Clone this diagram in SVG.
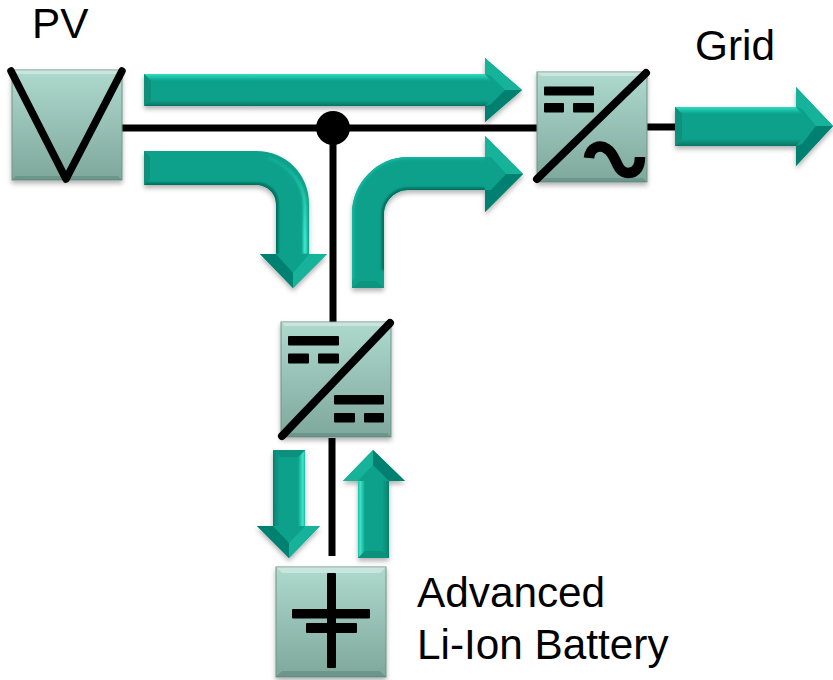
<svg xmlns="http://www.w3.org/2000/svg" width="833" height="680" viewBox="0 0 833 680">
<defs>
<linearGradient id="box" x1="0" y1="0" x2="0" y2="1"><stop offset="0" stop-color="#aed9cd"/><stop offset="1" stop-color="#7fa89d"/></linearGradient>
<linearGradient id="hTop" x1="0" y1="0" x2="0" y2="1"><stop offset="0" stop-color="#2fdcc0"/><stop offset="1" stop-color="#09a18b"/></linearGradient>
<linearGradient id="hBot" x1="0" y1="0" x2="0" y2="1"><stop offset="0" stop-color="#09a18b"/><stop offset="1" stop-color="#067565"/></linearGradient>
<linearGradient id="vR" x1="0" y1="0" x2="1" y2="0"><stop offset="0" stop-color="#09a18b"/><stop offset=".7" stop-color="#40e6cb"/><stop offset="1" stop-color="#1ab89f"/></linearGradient>
<linearGradient id="vL" x1="0" y1="0" x2="1" y2="0"><stop offset="0" stop-color="#06806e"/><stop offset="1" stop-color="#09a18b"/></linearGradient>
<linearGradient id="vLl" x1="0" y1="0" x2="1" y2="0"><stop offset="0" stop-color="#1ab89f"/><stop offset=".3" stop-color="#40e6cb"/><stop offset="1" stop-color="#09a18b"/></linearGradient>
<linearGradient id="vRd" x1="0" y1="0" x2="1" y2="0"><stop offset="0" stop-color="#09a18b"/><stop offset="1" stop-color="#06806e"/></linearGradient>
<linearGradient id="curveLit" gradientUnits="userSpaceOnUse" x1="0" y1="165" x2="0" y2="235"><stop offset="0" stop-color="#12ab94"/><stop offset="1" stop-color="#40e6cb"/></linearGradient>
<filter id="sh" x="-15%" y="-15%" width="130%" height="130%"><feDropShadow dx="0" dy="3" stdDeviation="2.500" flood-color="#000" flood-opacity="0.3"/></filter>
<filter id="soft" x="-10%" y="-10%" width="120%" height="120%"><feGaussianBlur stdDeviation="1"/></filter>
</defs>
<style>
.box{fill:url(#box);stroke:#6f9488;stroke-width:1}
.bh{fill:#ffffff;opacity:.35}
.bd{fill:#3f6a5f;opacity:.3}
.ar{fill:#09a18b}
.w{fill:none;stroke:#000;stroke-width:7}
.k{fill:#000}
.lt{fill:#12b29a}
.dk{fill:#06806f}
.dk2{fill:#07907c}
text{font-family:"Liberation Sans",Arial,sans-serif;font-size:42.300px;fill:#000}
</style>

<g id="connectors">
<path class="w" d="M122 128H537M333 128V322M647 127H676M332 438V556"/>
<circle class="k" cx="333" cy="128" r="17"/>
</g>

<g id="pv">
<rect class="box" x="12" y="70" width="110" height="110" filter="url(#sh)"/>
<path class="bh" d="M12 70H122L118 74H16Z"/>
<path class="bd" d="M12 180H122L118 176H16Z"/>
<path d="M11 71L66 179L122 71" fill="none" stroke="#000" stroke-width="7.500" stroke-linecap="round" stroke-linejoin="round"/>
<text x="32" y="38">PV</text>
</g>

<g id="inverter">
<rect class="box" x="537" y="72" width="110" height="110" filter="url(#sh)"/>
<path class="bh" d="M537 72H647L643 76H541Z"/>
<path class="bd" d="M537 182H647L643 178H541Z"/>
<path d="M537 179L646 73" stroke="#000" stroke-width="8" stroke-linecap="round"/>
<rect class="k" x="544" y="86.500" width="50" height="9" rx="1"/>
<rect class="k" x="544" y="103" width="20" height="9.500" rx="1"/>
<rect class="k" x="573" y="103" width="21" height="9.500" rx="1"/>
<path d="M589 158C590 147 600 144 607 149C617 155 616 173 628 173C637 173 640 166 640 157" fill="none" stroke="#000" stroke-width="10.500"/>
</g>

<g id="dcdc">
<rect class="box" x="281" y="322" width="110" height="115" filter="url(#sh)"/>
<path class="bh" d="M281 322H391L387 326H285Z"/>
<path class="bd" d="M281 437H391L387 433H285Z"/>
<path d="M282 436L390 323" stroke="#000" stroke-width="8" stroke-linecap="round"/>
<rect class="k" x="288" y="336" width="51" height="9.500" rx="1"/>
<rect class="k" x="288" y="353.500" width="21" height="10" rx="1"/>
<rect class="k" x="318" y="353.500" width="21" height="10" rx="1"/>
<rect class="k" x="334" y="395" width="50" height="9.500" rx="1"/>
<rect class="k" x="334" y="413" width="21" height="9.500" rx="1"/>
<rect class="k" x="364" y="413" width="20" height="9.500" rx="1"/>
</g>

<g id="battery">
<rect class="box" x="276" y="567" width="110" height="110" filter="url(#sh)"/>
<path class="bh" d="M276 567H386L380 573H282Z"/>
<path class="bd" d="M276 677H386L380 671H282Z"/>
<rect class="k" x="327" y="573" width="9" height="95" rx="1"/>
<rect class="k" x="292" y="609" width="78" height="9.500" rx="1"/>
<rect class="k" x="306" y="623" width="51" height="10" rx="1"/>
<text x="417" y="607">Advanced</text>
<text x="417" y="659">Li-Ion Battery</text>
</g>

<g id="grid">
<text x="695" y="60">Grid</text>
</g>

<g id="arrow-top" filter="url(#sh)">
<path class="ar" d="M144 74H485V58L522 90L485 122V106H144Z"/>
<path fill="url(#hTop)" d="M144 74H485L491 81H151Z"/>
<path fill="url(#hBot)" d="M144 106H485L491 100H151Z"/>
<path class="lt" d="M485 58L522 90L505 90L491 76L485 74Z"/>
<path class="dk" d="M485 122L522 90L505 90L491 104L485 106Z"/>
<path class="dk2" d="M144 74L151 81V100L144 106Z"/>
</g>

<g id="arrow-grid" filter="url(#sh)">
<path class="ar" d="M675 107H796V87L833 126L796 166V146H675Z"/>
<path fill="url(#hTop)" d="M675 107H796L802 114H682Z"/>
<path fill="url(#hBot)" d="M675 146H796L802 139H682Z"/>
<path class="lt" d="M796 87L833 126L816 126L802 109L796 107Z"/>
<path class="dk" d="M796 166L833 126L816 126L802 144L796 146Z"/>
<path class="dk2" d="M675 107L682 114V139L675 146Z"/>
</g>

<g id="arrow-down-bent" filter="url(#sh)">
<path class="ar" d="M144 151H256C286 151 309 174 309 204V254H327L293 288L260 254H276V204C276 193 267 185 256 185H144Z"/>
<clipPath id="c1"><path d="M144 151H256C286 151 309 174 309 204V254H276V204C276 193 267 185 256 185H144Z"/></clipPath>
<g clip-path="url(#c1)">
<path d="M268 158C289 165 305 183 305 206V254" fill="none" stroke="url(#curveLit)" stroke-width="4" filter="url(#soft)"/>
<path d="M144 185H256C268 185 276 193 276 204V254" fill="none" stroke="#06705f" stroke-width="5" filter="url(#soft)"/>
</g>
<path class="lt" d="M327 254L293 288V273L309 254Z"/>
<path class="dk" d="M260 254L293 288V273L276 254Z"/>
<path class="dk2" d="M144 151L150 157V179L144 185Z"/>
</g>

<g id="arrow-up-bent" filter="url(#sh)">
<path class="ar" d="M352 288V214C352 183 377 157 408 157H485V136L523 174L485 212V190H408C395 190 384 201 384 214V288Z"/>
<clipPath id="c2"><path d="M352 288V214C352 183 377 157 408 157H485V190H408C395 190 384 201 384 214V288Z"/></clipPath>
<g clip-path="url(#c2)">
<path d="M352 280V214C352 183 377 157 408 157H485" fill="none" stroke="#14b49c" stroke-width="5" filter="url(#soft)"/>
<path d="M384 270V214C384 201 395 190 408 190H485" fill="none" stroke="#06705f" stroke-width="5" filter="url(#soft)"/>
</g>
<path class="lt" d="M485 136L523 174L506 174L491 157L485 157Z"/>
<path class="dk" d="M485 212L523 174L506 174L491 190L485 190Z"/>
<path fill="#0a957f" d="M352 288L360 281H376L384 288Z"/>
</g>

<g id="arrow-down" filter="url(#sh)">
<path class="ar" d="M273 450H305V526H320L289 558L257 526H273Z"/>
<path fill="url(#vL)" d="M273 450L280 457V526H273Z"/>
<path fill="url(#vR)" d="M305 450L298 457V526H305Z"/>
<path class="lt" d="M320 526L289 558V543L305 526Z"/>
<path class="dk" d="M257 526L289 558V543L273 526Z"/>
<path class="dk2" d="M273 450H305L298 457H280Z"/>
</g>

<g id="arrow-up" filter="url(#sh)">
<path class="ar" d="M358 558V481H343L373 450L405 481H389V558Z"/>
<path fill="url(#vLl)" d="M358 558L365 551V481H358Z"/>
<path fill="url(#vRd)" d="M389 558L382 551V481H389Z"/>
<path class="lt" d="M343 481L373 450V465L358 481Z"/>
<path class="dk" d="M405 481L373 450V465L389 481Z"/>
<path class="dk2" d="M358 558H389L382 551H365Z"/>
</g>
</svg>
